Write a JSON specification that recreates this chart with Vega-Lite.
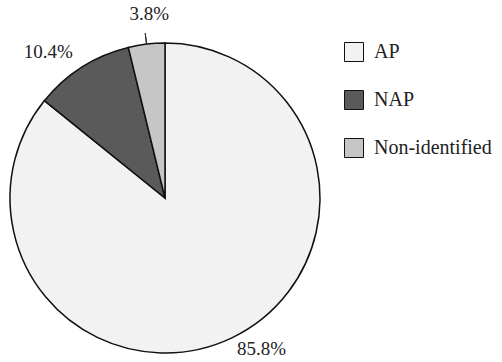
{
  "$schema": "https://vega.github.io/schema/vega-lite/v6.json",
  "width": 330,
  "height": 328,
  "autosize": {"type": "none"},
  "padding": {"left": 0, "top": 34, "right": 172, "bottom": 0},
  "background": "white",
  "config": {"view": {"stroke": null}},
  "data": {"values": [
    {"category": "AP", "value": 85.8, "label": "85.8%", "ord": 1},
    {"category": "NAP", "value": 10.4, "label": "10.4%", "ord": 2},
    {"category": "Non-identified", "value": 3.8, "label": "3.8%", "ord": 3}
  ]},
  "encoding": {
    "theta": {"field": "value", "type": "quantitative", "stack": true},
    "order": {"field": "ord", "type": "quantitative"}
  },
  "layer": [
    {
      "mark": {"type": "arc", "radius": 155, "stroke": "#111", "strokeWidth": 1.5},
      "encoding": {
        "color": {
          "field": "category",
          "type": "nominal",
          "scale": {"domain": ["AP", "NAP", "Non-identified"], "range": ["#f2f2f2", "#5a5a5a", "#c6c6c6"]},
          "legend": {
            "title": null,
            "orient": "none",
            "legendX": 344,
            "legendY": 8,
            "symbolType": "square",
            "symbolSize": 361,
            "symbolStrokeColor": "#111",
            "symbolStrokeWidth": 1,
            "rowPadding": 24,
            "labelOffset": 10,
            "labelFont": "Liberation Serif",
            "labelFontSize": 20,
            "labelColor": "#222"
          }
        }
      }
    },
    {
      "mark": {
        "type": "arc",
        "radius": 155,
        "radius2": 166,
        "padAngle": 1,
        "fill": null,
        "stroke": "#222",
        "strokeWidth": 1,
        "opacity": {"expr": "datum.category === 'Non-identified' ? 1 : 0"}
      }
    },
    {
      "mark": {
        "type": "text",
        "radius": 175,
        "font": "Liberation Serif",
        "fontSize": 19,
        "fill": "#222",
        "dx": {"expr": "datum.category === 'AP' ? 21 : datum.category === 'NAP' ? -23 : 5"},
        "dy": {"expr": "datum.category === 'AP' ? -7 : datum.category === 'NAP' ? 2 : -10"}
      },
      "encoding": {
        "text": {"field": "label", "type": "nominal"}
      }
    }
  ]
}
